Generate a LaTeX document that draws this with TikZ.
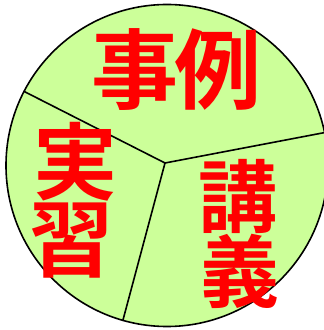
\documentclass[tikz,border=0pt]{standalone}
\usepackage{fontspec}
\newfontfamily\cjk{Noto Sans CJK JP}[BoldFont={* Bold}]
\definecolor{pie}{HTML}{CCFF99}
\definecolor{txt}{HTML}{FF0000}
\begin{document}
\begin{tikzpicture}[x=1pt,y=1pt,
  kanji/.style={inner sep=0pt,text=txt,font=\cjk\bfseries\fontsize{#1}{#1}\selectfont},
  divider/.style={line width=1.6pt,line cap=round}]
\useasboundingbox (0,0) rectangle (324,330);
\coordinate (C) at (167,164.5);
\fill[pie] (C) circle (161);
\coordinate (O) at (165,167);
\coordinate (A) at ([shift={(C)}]152.6:161);
\coordinate (B) at ([shift={(C)}]254.1:161);
\coordinate (R) at ([shift={(C)}]11.8:161);
\draw[divider] (O) -- (A);
\draw[divider] (O) -- (B);
\draw[divider] (O) -- (R);
\draw[line width=1.6pt] (C) circle (161);
\node[kanji=87] (k1) at (135,260) {事};
\node[kanji=87] (k2) at (218,260) {例};
\node[kanji=84] (k3) at (75,168) {実};
\node[kanji=84] (k4) at (71,89) {習};
\node[kanji=79] (k5) at (238,134) {講};
\node[kanji=79] (k6) at (240,59) {義};
\end{tikzpicture}
\end{document}
